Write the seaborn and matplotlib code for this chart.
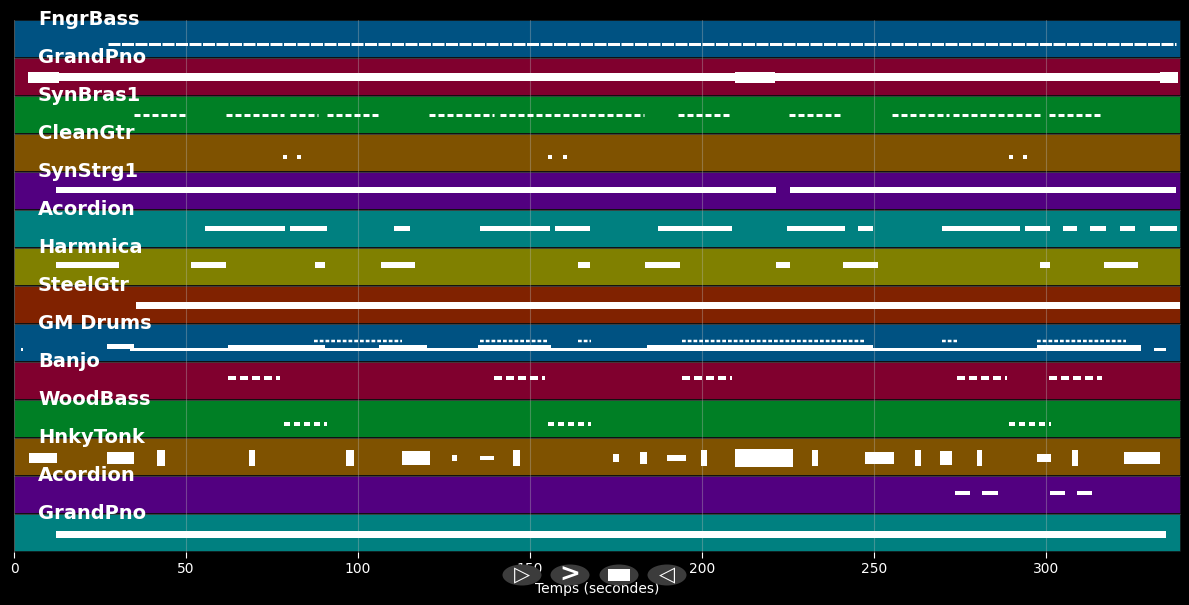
import pandas as pd
import matplotlib.pyplot as plt
from matplotlib.patches import Ellipse, Rectangle
import seaborn as sns

# --- données des pistes (temps en secondes) ---
track_names = ["FngrBass", "GrandPno", "SynBras1", "CleanGtr", "SynStrg1", "Acordion", "Harmnica",
               "SteelGtr", "GM Drums", "Banjo", "WoodBass", "HnkyTonk", "Acordion", "GrandPno"]
lane_colors = ["#005282", "#80002e", "#007f25", "#7f5200", "#520080", "#008080", "#808000", "#802200",
               "#005282", "#80002e", "#007f25", "#7f5200", "#520080", "#008080"]
song_length = 339.2
time_ticks = [0, 50, 100, 150, 200, 250, 300]

fngrbass = [(27.3, 337.8)]
grandpno_a = [(4.1, 338.4)]
grandpno_a_dense = [(4.1, 13.0), (209.6, 221.2), (333.0, 338.4)]
synbras1 = [(34.9, 50.6), (61.6, 78.5), (80.2, 88.4), (91.0, 106.1), (120.6, 139.5), (141.3, 166.3),
            (167.2, 183.1), (193.0, 208.4), (225.3, 240.7), (255.2, 271.8), (273.0, 298.5), (300.9, 316.3)]
cleangtr = [(78.2, 79.4), (82.2, 83.4), (155.1, 156.3), (159.5, 160.7), (289.2, 290.4), (293.2, 294.4)]
synstrg1 = [(12.2, 221.5), (225.6, 337.8)]
acordion_a = [(55.5, 78.8), (80.2, 91.0), (110.5, 115.1), (135.5, 155.8), (157.3, 167.4), (187.2, 208.7),
              (224.7, 241.6), (245.3, 249.7), (269.8, 292.4), (293.9, 301.2), (304.9, 309.0),
              (312.8, 317.4), (321.5, 325.9), (330.2, 338.1)]
harmnica = [(12.2, 30.5), (51.5, 61.6), (87.5, 90.4), (106.7, 116.6), (164.0, 167.4), (183.4, 193.6),
            (221.5, 225.6), (241.0, 251.2), (298.3, 301.2), (316.9, 326.7)]
steelgtr = [(35.5, 339.0)]
drums_line = [(2.0, 2.5), (33.7, 327.6), (331.4, 334.9)]
drums_intro = [(27.0, 34.9)]
drums_busy = [(62.2, 90.4), (106.1, 120.1), (134.9, 156.1), (184.0, 249.7), (297.4, 327.6)]
drums_hats = [(87.2, 112.8), (135.5, 155.5), (164.0, 167.7), (194.2, 247.4), (269.8, 274.1), (297.4, 323.3)]
banjo = [(62.2, 77.3), (139.5, 154.4), (194.2, 208.7), (274.1, 288.7), (300.9, 316.3)]
woodbass = [(78.5, 91.0), (155.2, 167.7), (289.2, 301.5)]
hnkytonk = [(4.4, 12.5), (27.0, 34.9), (41.6, 43.9), (68.3, 70.1), (96.5, 98.8), (112.8, 120.9),
            (127.3, 128.8), (135.5, 139.5), (145.1, 147.1), (174.1, 175.9), (182.0, 184.0),
            (189.8, 195.3), (199.7, 201.5), (209.6, 226.5), (232.0, 233.7), (247.4, 255.8),
            (261.9, 263.7), (269.2, 272.7), (279.9, 281.4), (297.4, 301.5), (307.6, 309.3), (322.7, 333.1)]
hnkytonk_range = [10, 12, 16, 16, 16, 14, 6, 4, 16, 8, 12, 6, 16, 18, 16, 12, 16, 14, 16, 8, 16, 12]
acordion_b = [(273.5, 277.9), (281.4, 286.0), (301.2, 305.5), (309.0, 313.4)]
grandpno_b = [(12.2, 334.9)]

# hauteur moyenne des notes dans chaque piste (px depuis le haut de la piste) et épaisseur
note_pitch = [24, 19, 19, 23, 18, 18, 17, 19, 25, 16, 24, 20, 17, 20]
note_span = [3, 8, 3, 4, 6, 5, 6, 7, 3, 4, 4, 0, 4, 7]

LANE_PX = 38.0

sns.set_theme(style="dark", rc={
    "figure.facecolor": "black",
    "axes.facecolor": "black",
    "savefig.facecolor": "black",
    "text.color": "white",
    "axes.labelcolor": "white",
    "xtick.color": "white",
    "ytick.color": "white",
})
plt.rcParams["font.family"] = ["DejaVu Sans"]

fig = plt.figure(figsize=(11.89, 6.05), dpi=100)
ax = fig.add_axes([14 / 1189, 1 - 552 / 605, 1167 / 1189, 532 / 605])

# --- fonds des pistes ---
lanes = pd.DataFrame({"lane": [str(i) for i in range(len(track_names))],
                      "length": [song_length] * len(track_names)})
sns.barplot(data=lanes, y="lane", x="length", hue="lane", palette=lane_colors, width=1.0,
            saturation=1, edgecolor="#101010", linewidth=1.2, legend=False, ax=ax, orient="h")

for t in time_ticks:
    ax.axvline(t, color="#bbbbbb", alpha=0.35, lw=0.8, zorder=1.5)
for i in range(1, len(track_names)):
    ax.axhline(i - 0.5, color="#999999", alpha=0.35, lw=0.6, zorder=1.6)


def draw_block(i, notes, pitch, span, **kw):
    y0 = i - 0.5 + (pitch - span / 2) / LANE_PX
    ax.broken_barh([(s, e - s) for s, e in notes], (y0, span / LANE_PX),
                   facecolors="white", edgecolors="none", zorder=3, **kw)


def draw_dotted(i, notes, pitch, span, dash=(3.0, 0.7)):
    y = i - 0.5 + pitch / LANE_PX
    for s, e in notes:
        ax.hlines(y, s, e, colors="white", lw=span * 0.72, linestyles=(0, dash), zorder=3)


draw_dotted(0, fngrbass, note_pitch[0], note_span[0], dash=(4.0, 0.5))
draw_block(1, grandpno_a, note_pitch[1], note_span[1])
draw_block(1, grandpno_a_dense, note_pitch[1], 11)
draw_dotted(2, synbras1, note_pitch[2], note_span[2], dash=(2.0, 1.0))
draw_block(3, cleangtr, note_pitch[3], note_span[3])
draw_block(4, synstrg1, note_pitch[4], note_span[4])
draw_block(5, acordion_a, note_pitch[5], note_span[5])
draw_block(6, harmnica, note_pitch[6], note_span[6])
draw_block(7, steelgtr, note_pitch[7], note_span[7])
draw_block(8, drums_line, note_pitch[8], note_span[8])
draw_block(8, drums_intro, 22, 5)
draw_block(8, drums_busy, 23, 4.5)
draw_dotted(8, drums_hats, 17, 2.5, dash=(1.5, 0.8))
draw_dotted(9, banjo, note_pitch[9], note_span[9], dash=(2.0, 1.0))
draw_dotted(10, woodbass, note_pitch[10], note_span[10], dash=(1.5, 1.0))
for (s, e), rng in zip(hnkytonk, hnkytonk_range):
    draw_block(11, [(s, e)], note_pitch[11], rng)
draw_block(12, acordion_b, note_pitch[12], note_span[12])
draw_block(13, grandpno_b, note_pitch[13], note_span[13])

# --- noms des pistes ---
for i, name in enumerate(track_names):
    ax.text(7.0, i - 0.5 + 5 / LANE_PX, name, color="white", fontsize=14, fontweight="bold",
            va="baseline", ha="left", zorder=5, clip_on=False)

ax.set_xlim(0, song_length)
ax.set_ylim(len(track_names) - 0.5, -0.5)
ax.set_yticks([])
ax.set_ylabel("")
ax.set_xticks(time_ticks)
ax.tick_params(axis="x", colors="white", labelsize=10, length=4, width=0.8, bottom=True)
ax.set_xlabel("Temps (secondes)", color="white", fontsize=10, labelpad=4)
for sp in ax.spines.values():
    sp.set_visible(False)
ax.grid(False)

# --- boutons de lecture ---
btn_x = [522, 570, 619, 667]
btn_y = 575
for bx in btn_x:
    fig.add_artist(Ellipse((bx / 1189, 1 - btn_y / 605), 39 / 1189, 21 / 605,
                           transform=fig.transFigure, facecolor="#3c3c3c", edgecolor="none", zorder=10))
fig.text(btn_x[0] / 1189, 1 - btn_y / 605, "\u25b7", color="white", fontsize=15,
         ha="center", va="center", zorder=11)
fig.text(btn_x[1] / 1189, 1 - btn_y / 605, ">", color="white", fontsize=18, fontweight="bold",
         ha="center", va="center", zorder=11)
fig.add_artist(Rectangle(((btn_x[2] - 11) / 1189, 1 - (btn_y + 6) / 605), 22 / 1189, 12 / 605,
                         transform=fig.transFigure, facecolor="white", edgecolor="none", zorder=11))
fig.text(btn_x[3] / 1189, 1 - btn_y / 605, "\u25c1", color="white", fontsize=15,
         ha="center", va="center", zorder=11)

fig.savefig("out.png", dpi=100, facecolor="black")
